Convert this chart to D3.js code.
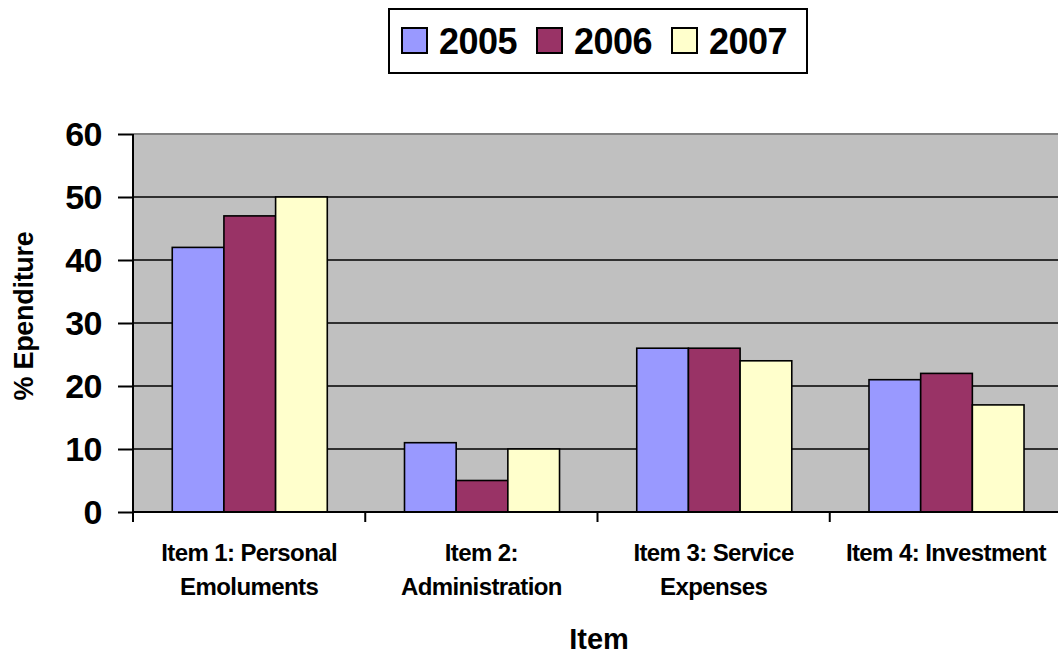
<!DOCTYPE html>
<html>
<head>
<meta charset="utf-8">
<script src="https://cdn.jsdelivr.net/npm/d3@7"></script>
<style>
  html, body { margin: 0; padding: 0; background: #fff; overflow: hidden; }
  svg { display: block; font-family: "Liberation Sans", Arial, sans-serif; }
</style>
</head>
<body>
<svg id="chart" width="1058" height="655"></svg>
<script>
const categories = [
  ["Item 1: Personal", "Emoluments"],
  ["Item 2:", "Administration"],
  ["Item 3: Service", "Expenses"],
  ["Item 4: Investment"]
];
const years = ["2005", "2006", "2007"];
const values2005 = [42, 11, 26, 21];
const values2006 = [47, 5, 26, 22];
const values2007 = [50, 10, 24, 17];
const yTicks = [0, 10, 20, 30, 40, 50, 60];
const colors = ["#9999FF", "#993366", "#FFFFCC"];
const yTitle = "% Ependiture";
const xTitle = "Item";

(function () {
const seriesValues = [values2005, values2006, values2007];
const catKeys = categories.map((c, i) => "c" + i);

const svg = d3.select("#chart");
const pLeft = 133, pRight = 1062, pTop = 134, pBottom = 512;

const x0 = d3.scaleBand().domain(catKeys).range([pLeft, pRight]).padding(0);
const bw = x0.bandwidth();
const x1 = d3.scaleBand().domain(years).range([bw * 0.169, bw * 0.8365]).padding(0);
const y = d3.scaleLinear().domain([0, 60]).range([pBottom, pTop]);

// plot background
svg.append("rect")
  .attr("x", pLeft).attr("y", pTop)
  .attr("width", pRight - pLeft).attr("height", pBottom - pTop)
  .attr("fill", "#C0C0C0");

// gridlines
svg.append("g").selectAll("line")
  .data(yTicks.filter(t => t > 0 && t < 60))
  .join("line")
  .attr("x1", pLeft).attr("x2", pRight)
  .attr("y1", d => y(d)).attr("y2", d => y(d))
  .attr("stroke", "#000").attr("stroke-width", 1.4);

// top border
svg.append("line")
  .attr("x1", pLeft).attr("x2", pRight)
  .attr("y1", pTop).attr("y2", pTop)
  .attr("stroke", "#808080").attr("stroke-width", 2);

// bars
const rows = [];
catKeys.forEach((k, ci) => {
  years.forEach((yr, si) => {
    rows.push({ k, yr, si, v: seriesValues[si][ci] });
  });
});
svg.append("g").selectAll("rect")
  .data(rows)
  .join("rect")
  .attr("x", d => x0(d.k) + x1(d.yr))
  .attr("y", d => y(d.v))
  .attr("width", x1.bandwidth())
  .attr("height", d => y(0) - y(d.v))
  .attr("fill", d => colors[d.si])
  .attr("stroke", "#000")
  .attr("stroke-width", 1.6);

// y axis
const yAxis = svg.append("g")
  .attr("transform", `translate(${pLeft},0)`)
  .call(d3.axisLeft(y).tickValues(yTicks).tickSize(15).tickPadding(16).tickFormat(d3.format("d")));
yAxis.select(".domain").attr("stroke", "#000").attr("stroke-width", 2)
  .attr("d", `M0,${pTop}V${pBottom + 10}`);
yAxis.selectAll(".tick line").attr("stroke", "#000").attr("stroke-width", 2);
yAxis.selectAll(".tick text")
  .attr("fill", "#000")
  .style("font-size", "34px")
  .style("font-weight", "bold")
  .style("letter-spacing", "-0.5px")
  .attr("dy", "0.35em");

// x axis
const xAxisG = svg.append("g");
xAxisG.append("line")
  .attr("x1", pLeft).attr("x2", pRight)
  .attr("y1", pBottom).attr("y2", pBottom)
  .attr("stroke", "#000").attr("stroke-width", 2);
const boundaries = catKeys.map(k => x0(k)).concat([pRight]);
xAxisG.selectAll("line.tk")
  .data(boundaries)
  .join("line")
  .attr("class", "tk")
  .attr("x1", d => d).attr("x2", d => d)
  .attr("y1", pBottom).attr("y2", pBottom + 10)
  .attr("stroke", "#000").attr("stroke-width", 2);

const lbl = xAxisG.selectAll("text.cat")
  .data(categories.map((lines, i) => ({ lines, k: catKeys[i] })))
  .join("text")
  .attr("class", "cat")
  .attr("text-anchor", "middle")
  .style("font-size", "24px")
  .style("font-weight", "bold")
  .style("letter-spacing", "-0.6px")
  .attr("fill", "#000");
lbl.selectAll("tspan")
  .data(d => d.lines.map((t, j) => ({ t, j, k: d.k })))
  .join("tspan")
  .attr("x", d => x0(d.k) + bw / 2)
  .attr("y", d => 561 + d.j * 34)
  .text(d => d.t);

// axis titles
svg.append("text")
  .attr("x", 599).attr("y", 649)
  .attr("text-anchor", "middle")
  .style("font-size", "29px").style("font-weight", "bold")
  .text(xTitle);

svg.append("text")
  .attr("transform", "translate(33,316) rotate(-90)")
  .attr("text-anchor", "middle")
  .style("font-size", "27px").style("font-weight", "bold")
  .style("letter-spacing", "-0.3px")
  .text(yTitle);

// legend
const lg = svg.append("g");
lg.append("rect")
  .attr("x", 389).attr("y", 9).attr("width", 418).attr("height", 64)
  .attr("fill", "#fff").attr("stroke", "#000").attr("stroke-width", 2);
const legendX = [402, 537, 672];
years.forEach((yr, i) => {
  lg.append("rect")
    .attr("x", legendX[i]).attr("y", 28).attr("width", 25).attr("height", 25)
    .attr("fill", colors[i]).attr("stroke", "#000").attr("stroke-width", 2);
  lg.append("text")
    .attr("x", legendX[i] + 37).attr("y", 54)
    .style("font-size", "36px").style("font-weight", "bold")
    .style("letter-spacing", "-0.5px")
    .text(yr);
});
})();
</script>
</body>
</html>
